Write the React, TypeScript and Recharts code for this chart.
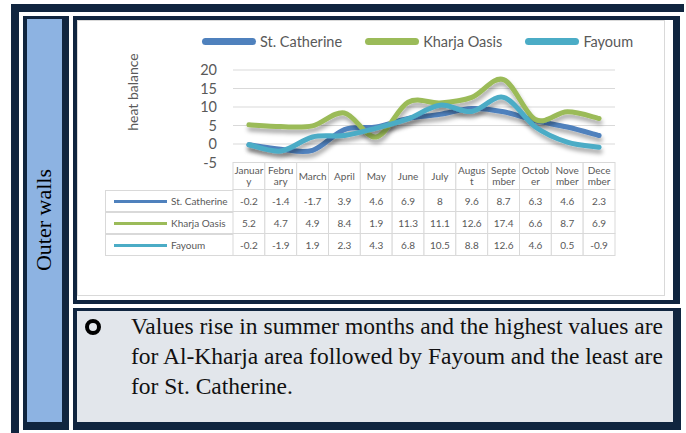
import React from "react";
import { LineChart, Line, XAxis, YAxis, CartesianGrid, Legend } from "recharts";

const months = ["January", "February", "March", "April", "May", "June", "July", "August", "September", "October", "November", "December"];
const monthTicks = [["Januar", "y"], ["Febru", "ary"], ["March"], ["April"], ["May"], ["June"], ["July"], ["Augus", "t"], ["Septe", "mber"], ["Octob", "er"], ["Nove", "mber"], ["Dece", "mber"]];
const stCatherine = [-0.2, -1.4, -1.7, 3.9, 4.6, 6.9, 8, 9.6, 8.7, 6.3, 4.6, 2.3];
const kharjaOasis = [5.2, 4.7, 4.9, 8.4, 1.9, 11.3, 11.1, 12.6, 17.4, 6.6, 8.7, 6.9];
const fayoum = [-0.2, -1.9, 1.9, 2.3, 4.3, 6.8, 10.5, 8.8, 12.6, 4.6, 0.5, -0.9];
const seriesNames = ["St. Catherine", "Kharja Oasis", "Fayoum"];
const seriesKeys = ["stCatherine", "kharjaOasis", "fayoum"];
const seriesColors = ["#4f81bd", "#9bbb59", "#4bacc6"];
const yTicks = [-5, 0, 5, 10, 15, 20];

const seriesValues = [stCatherine, kharjaOasis, fayoum];
const data = months.map((m, i) => ({
  month: m,
  stCatherine: stCatherine[i],
  kharjaOasis: kharjaOasis[i],
  fayoum: fayoum[i],
}));

const NAVY = "#10253f";
const GRID = "#d9d9d9";
const TXT = "#595959";
const PLOT_W = 382;
const COL_W = PLOT_W / 12;
const HEAD_H = 27;
const ROW_H = 22;

// excel-like smoothed line (catmull-rom as bezier)
const excelCurve = (context: any) => {
  let pts: number[][] = [];
  return {
    areaStart() {},
    areaEnd() {},
    lineStart() {
      pts = [];
    },
    point(x: number, y: number) {
      pts.push([+x, +y]);
    },
    lineEnd() {
      if (!pts.length) return;
      context.moveTo(pts[0][0], pts[0][1]);
      for (let i = 0; i < pts.length - 1; i++) {
        const p0 = pts[Math.max(i - 1, 0)];
        const p1 = pts[i];
        const p2 = pts[i + 1];
        const p3 = pts[Math.min(i + 2, pts.length - 1)];
        context.bezierCurveTo(
          p1[0] + (p2[0] - p0[0]) / 6,
          p1[1] + (p2[1] - p0[1]) / 6,
          p2[0] - (p3[0] - p1[0]) / 6,
          p2[1] - (p3[1] - p1[1]) / 6,
          p2[0],
          p2[1]
        );
      }
    },
  };
};

const TableTick = (props: any) => {
  const { x, y, payload } = props;
  const i = months.indexOf(payload.value);
  const lines = monthTicks[i];
  const left = x - COL_W / 2;
  return (
    <g>
      <rect x={left} y={y} width={COL_W} height={HEAD_H} fill="#fff" stroke={GRID} />
      {lines.map((t, k) => (
        <text key={k} x={x} y={lines.length === 1 ? y + 17 : y + 11 + k * 11} textAnchor="middle" fontSize={10} fill={TXT}>
          {t}
        </text>
      ))}
      {seriesValues.map((vals, r) => (
        <g key={r}>
          <rect x={left} y={y + HEAD_H + r * ROW_H} width={COL_W} height={ROW_H} fill="#fff" stroke={GRID} />
          <text x={x} y={y + HEAD_H + r * ROW_H + 15} textAnchor="middle" fontSize={10} fill={TXT}>
            {vals[i]}
          </text>
        </g>
      ))}
    </g>
  );
};

const LegendContent = () => (
  <div style={{ display: "flex", alignItems: "center", fontSize: 14.5, color: TXT, whiteSpace: "nowrap" }}>
    {seriesNames.map((n, i) => (
      <div key={n} style={{ display: "flex", alignItems: "center", marginRight: 23 }}>
        <span style={{ display: "inline-block", width: 54, height: 7, borderRadius: 3.5, background: seriesColors[i], marginRight: 4 }} />
        <span>{n}</span>
      </div>
    ))}
  </div>
);

const abs = (left: number, top: number, width: number, height: number, extra: React.CSSProperties = {}): React.CSSProperties => ({
  position: "absolute",
  left,
  top,
  width,
  height,
  ...extra,
});

const App: React.FC = () => {
  return (
    <div style={abs(0, 0, 686, 433, { background: "#fff", overflow: "hidden" })}>
      {/* outer frame */}
      <div style={abs(11, 4, 673, 8, { background: NAVY })} />
      <div style={abs(11, 4, 8, 429, { background: NAVY })} />

      {/* left cell */}
      <div style={abs(23, 16, 46, 414, { background: NAVY })} />
      <div style={abs(27, 19, 35, 403, { background: "#8db3e2" })} />
      <div
        style={abs(-16, 206, 120, 28, {
          transform: "rotate(-90deg)",
          fontFamily: "'Liberation Serif', 'Times New Roman', serif",
          fontSize: 22,
          lineHeight: "28px",
          textAlign: "center",
          color: "#000",
        })}
      >
        Outer walls
      </div>

      {/* chart cell */}
      <div style={abs(73, 16, 607, 288, { background: NAVY })} />
      <div style={abs(77, 20, 596, 280, { background: "#fff" })} />

      <div style={abs(77, 20, 588, 276, { outline: `1px solid ${GRID}`, outlineOffset: -1, fontFamily: "Lato, 'Open Sans', sans-serif" })}>
        <LineChart width={588} height={276} data={data} margin={{ top: 50, right: 50, left: 100, bottom: 38.5 }}>
          <defs>
            <filter id="lineShadow" x="-10%" y="-30%" width="120%" height="160%">
              <feDropShadow dx="1" dy="4" stdDeviation="2" floodColor="#000" floodOpacity="0.35" />
            </filter>
          </defs>
          <CartesianGrid vertical={false} stroke={GRID} />
          <XAxis
            dataKey="month"
            padding={{ left: COL_W / 2, right: COL_W / 2 }}
            height={95}
            interval={0}
            axisLine={false}
            tickLine={false}
            tickSize={0}
            tickMargin={0}
            tick={<TableTick />}
          />
          <YAxis
            width={56}
            domain={[-5, 20]}
            ticks={yTicks}
            interval={0}
            axisLine={false}
            tickLine={false}
            tickSize={0}
            tickMargin={16}
            tick={{ fontSize: 14.5, fill: TXT }}
          />
          <Legend verticalAlign="middle" align="center" content={<LegendContent />} wrapperStyle={{ left: 125, top: 13, width: 470, height: 18 }} />
          {seriesKeys.map((k, i) => (
            <Line
              key={k}
              dataKey={k}
              name={seriesNames[i]}
              type={excelCurve as any}
              stroke={seriesColors[i]}
              strokeWidth={5}
              strokeLinecap="round"
              dot={false}
              activeDot={false}
              filter="url(#lineShadow)"
              isAnimationActive={false}
            />
          ))}
        </LineChart>

        {/* row label cells of the data table */}
        {seriesNames.map((n, i) => (
          <div
            key={n}
            style={abs(28, 169.5 + i * ROW_H, 128, ROW_H, {
              boxSizing: "border-box",
              border: `1px solid ${GRID}`,
              borderRight: "none",
              fontSize: 10,
              color: TXT,
            })}
          >
            <div style={abs(8, 9, 53, 3, { background: seriesColors[i] })} />
            <div style={abs(65, 3, 62, 14, { lineHeight: "14px", whiteSpace: "nowrap" })}>{n}</div>
          </div>
        ))}

        {/* y axis title */}
        <div
          style={abs(-4, 62, 120, 20, {
            transform: "rotate(-90deg)",
            fontSize: 14,
            color: TXT,
            textAlign: "center",
            lineHeight: "20px",
          })}
        >
          heat balance
        </div>
      </div>

      {/* text cell */}
      <div style={abs(73, 308, 608, 122, { background: NAVY })} />
      <div style={abs(77, 311, 596, 111, { background: "#e2e6eb" })} />
      <div style={abs(85, 319, 16, 16, { boxSizing: "border-box", border: "4px solid #000", borderRadius: "50%" })} />
      <div
        style={abs(131, 311, 545, 100, {
          fontFamily: "'Liberation Serif', 'Times New Roman', serif",
          fontSize: 23.5,
          lineHeight: "30px",
          color: "#111",
          whiteSpace: "nowrap",
        })}
      >
        Values rise in summer months and the highest values are
        <br />
        for Al-Kharja area followed by Fayoum and the least are
        <br />
        for St. Catherine.
      </div>
    </div>
  );
};

export default App;
